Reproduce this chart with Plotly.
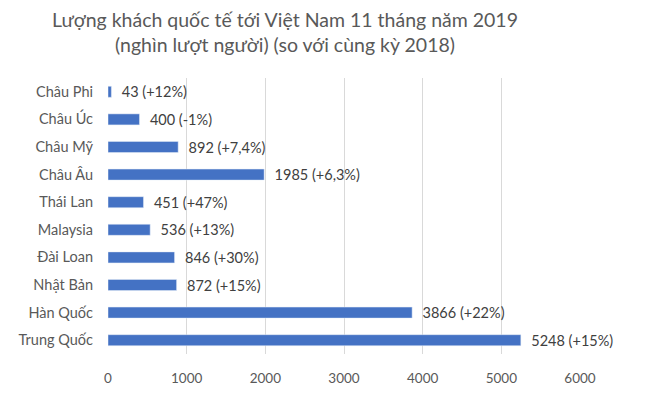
import plotly.graph_objects as go

categories = ["Trung Quốc", "Hàn Quốc", "Nhật Bản", "Đài Loan", "Malaysia",
              "Thái Lan", "Châu Âu", "Châu Mỹ", "Châu Úc", "Châu Phi"]
values = [5248, 3866, 872, 846, 536, 451, 1985, 892, 400, 43]
changes = ["+15%", "+22%", "+15%", "+30%", "+13%", "+47%", "+6,3%", "+7,4%", "-1%", "+12%"]
tick_vals = [0, 1000, 2000, 3000, 4000, 5000, 6000]

labels = [f"  {v} ({c})" for v, c in zip(values, changes)]

FONT = "Lato, Open Sans, sans-serif"
TITLE = "Lượng khách quốc tế tới Việt Nam 11 tháng năm 2019<br>(nghìn lượt người) (so với cùng kỳ 2018)"

fig = go.Figure(go.Bar(
    x=values, y=categories, orientation="h",
    marker_color="#4472C4", width=0.4,
    text=labels, textposition="outside", cliponaxis=False,
    constraintext="none",
    textfont=dict(family=FONT, size=14.5, color="#404040"),
))

fig.update_layout(
    width=650, height=401,
    margin=dict(l=108, r=70, t=78, b=47),
    paper_bgcolor="white", plot_bgcolor="white",
    showlegend=False,
    font=dict(family=FONT, size=14, color="#595959"),
    xaxis=dict(range=[0, 6000], tickvals=tick_vals, showgrid=True,
               gridcolor="#d9d9d9", gridwidth=1.3, zeroline=False,
               showline=False, ticks="", tickfont=dict(size=13.5, color="#595959")),
    yaxis=dict(categoryorder="array", categoryarray=categories,
               showgrid=False, showline=False, ticks="",
               tickfont=dict(size=14.5, color="#595959")),
    annotations=[dict(
        text=TITLE, x=(285 - 108) / 472, xref="paper", xanchor="center",
        y=1, yref="paper", yanchor="bottom", yshift=20,
        showarrow=False, font=dict(family=FONT, size=19.5, color="#595959"),
    )],
)
fig.update_xaxes(ticklabelstandoff=14)
fig.update_yaxes(ticklabelstandoff=14)

fig.write_html("out.html")
